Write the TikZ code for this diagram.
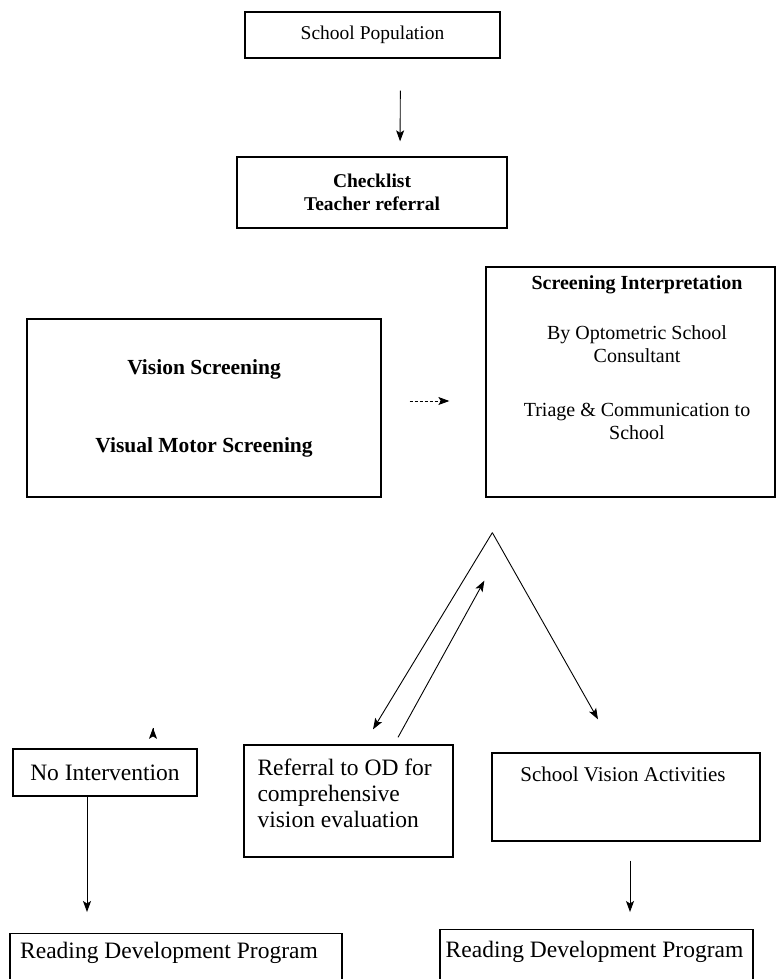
\documentclass[tikz,border=0pt]{standalone}
\usepackage{fontspec}
\setmainfont{Liberation Serif}
\usetikzlibrary{positioning, arrows.meta}

\begin{document}
\begin{tikzpicture}[
    x=1pt, y=-1pt,
    frame/.style={draw, line width=1.3pt, inner sep=0pt, align=center},
    txt/.style={inner sep=0pt, align=center},
    arr/.style={-{Stealth[length=11pt, width=8pt, inset=2.5pt]}, line width=0.9pt},
    dasharr/.style={arr, dash pattern=on 3pt off 2pt},
    popfont/.style={font=\fontsize{19.5}{23}\selectfont},
    chkfont/.style={font=\fontsize{19.5}{23}\selectfont\bfseries},
    vsfont/.style={font=\fontsize{21.5}{24}\selectfont\bfseries},
    sifont/.style={font=\fontsize{20}{23}\selectfont},
    svafont/.style={font=\fontsize{21}{25}\selectfont},
    bodyfont/.style={font=\fontsize{23.5}{26}\selectfont}
]
    \useasboundingbox (0,0) rectangle (781,979);
    \clip (0,0) rectangle (781,979);

    % Top chain
    \node[frame, popfont, minimum width=255pt, minimum height=46pt] (pop) at (372.5,35) {School Population};
    \node[frame, chkfont, minimum width=270pt, minimum height=71pt] (chk) at (372,192.5) {Checklist\\Teacher referral};
    \draw[arr, shorten <=32pt, shorten >=15pt] ([xshift=28pt]pop.south) -- ([xshift=28pt]chk.north);

    % Screening
    \node[frame, vsfont, minimum width=354pt, minimum height=178pt] (vs) at (204,408) {Vision Screening\\[54pt]Visual Motor Screening};
    \node[frame, minimum width=289pt, minimum height=230pt] (si) at (630.5,382) {};
    \node[txt, sifont, below=9pt of si.north, xshift=6.5pt] (sitxt) {\textbf{Screening Interpretation}\\[27pt]By Optometric School\\Consultant\\[31pt]Triage \& Communication to\\School};
    \coordinate (dstart) at ([yshift=7pt]vs.east);
    \draw[dasharr, shorten <=28pt, shorten >=36pt] (dstart) -- (dstart -| si.west);

    % Triage
    \coordinate (apex) at ([xshift=7pt, yshift=-35pt]si.south west);
    \coordinate (retn) at ([xshift=-8pt, yshift=-48pt]apex);

    \node[frame, bodyfont, minimum width=184pt, minimum height=47pt] (noint) at (105,772.5) {No Intervention};
    \node[frame, minimum width=209pt, minimum height=112pt] (ref) at (348.5,801) {};
    \node[txt, bodyfont, align=left, anchor=north west] (reftxt) at ([xshift=14pt, yshift=-14pt]ref.north west) {Referral to OD for\\comprehensive\\vision evaluation};
    \node[frame, minimum width=268pt, minimum height=88pt] (sva) at (626,797) {};
    \node[txt, svafont, below=14pt of sva.north, xshift=-3pt] (svatxt) {School Vision Activities};

    \draw[arr] (apex) -- ([xshift=24.5pt, yshift=15pt]ref.north);
    \draw[arr] ([xshift=49.5pt, yshift=7pt]ref.north) -- (retn);
    \draw[arr] (apex) -- ([xshift=-28pt, yshift=33pt]sva.north);

    \coordinate (stray) at ([xshift=48pt, yshift=20pt]noint.north);
    \draw[arr] (stray) -- ++(0,-0.5);

    % Reading programs
    \node[frame, minimum width=332pt, minimum height=100pt, anchor=north] (rdpa) at (176,933) {};
    \node[txt, bodyfont, below=9pt of rdpa.north, xshift=-7pt] (rdpatxt) {Reading Development Program};
    \node[frame, minimum width=313pt, minimum height=100pt, anchor=north] (rdpb) at (596.5,929) {};
    \node[txt, bodyfont, below=12pt of rdpb.north, xshift=-2pt] (rdpbtxt) {Reading Development Program};

    \coordinate (nidown) at ([xshift=-18pt]noint.south);
    \draw[arr, shorten >=21pt] (nidown) -- (nidown |- rdpa.north);
    \coordinate (svadown) at ([xshift=4pt]sva.south);
    \draw[arr, shorten <=19pt, shorten >=17pt] (svadown) -- (svadown |- rdpb.north);

\end{tikzpicture}
\end{document}
